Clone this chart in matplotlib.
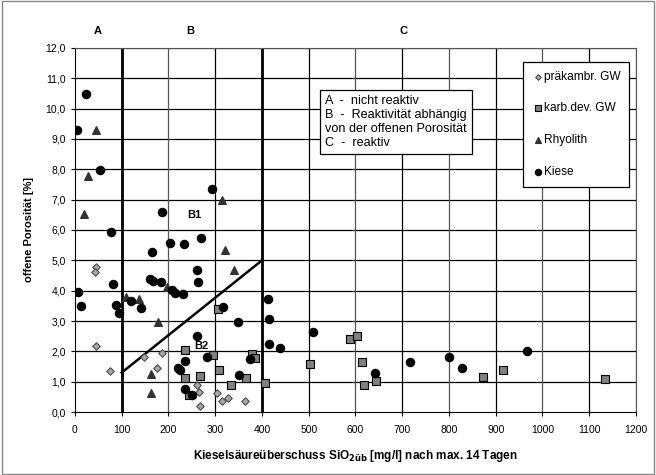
import matplotlib.pyplot as plt

plt.rcParams['font.family'] = ['Liberation Sans', 'DejaVu Sans']

# präkambr. GW (diamonds)
pk_x = [46, 42, 46, 75, 148, 186, 176, 260, 266, 267, 303, 315, 327, 363]
pk_y = [4.79, 4.61, 2.19, 1.36, 1.81, 1.95, 1.46, 0.89, 0.65, 0.20, 0.64, 0.37, 0.45, 0.37]

# karb.dev. GW (squares)
kd_x = [305, 236, 295, 379, 384, 307, 268, 236, 366, 334, 406, 243, 502, 589, 604,
        613, 644, 618, 872, 916, 1134]
kd_y = [3.40, 2.03, 1.88, 1.91, 1.77, 1.40, 1.19, 1.11, 1.13, 0.90, 0.96, 0.56, 1.59, 2.40, 2.52,
        1.65, 1.02, 0.88, 1.15, 1.38, 1.08]

# Rhyolith (triangles)
rh_x = [46, 27, 20, 315, 320, 340, 110, 137, 197, 177, 162, 162]
rh_y = [9.30, 7.78, 6.52, 6.99, 5.34, 4.68, 3.80, 3.71, 4.11, 2.98, 1.25, 0.62]

# Kiese (circles)
ki_x = [24, 4, 53, 77, 187, 6, 13, 82, 88, 94, 119, 141, 164, 160, 167, 185, 203,
        208, 215, 230, 293, 269, 233, 260, 263, 412, 316, 416, 348, 260, 414, 438,
        282, 374, 235, 220, 225, 351, 235, 251, 509, 641, 717, 800, 827, 967]
ki_y = [10.47, 9.31, 7.98, 5.92, 6.58, 3.97, 3.50, 4.21, 3.53, 3.25, 3.66, 3.43, 5.29, 4.39,
        4.31, 4.30, 5.56, 4.02, 3.93, 3.88, 7.35, 5.75, 5.53, 4.67, 4.30, 3.72, 3.47, 3.08,
        2.96, 2.50, 2.25, 2.12, 1.80, 1.74, 1.69, 1.46, 1.37, 1.22, 0.75, 0.56, 2.65, 1.28,
        1.66, 1.82, 1.44, 2.01]

x_ticks = list(range(0, 1201, 100))
y_ticks = list(range(0, 13))
y_labels = ['%.1f' % v for v in y_ticks]
y_labels = [s.replace('.', ',') for s in y_labels]

fig = plt.figure(figsize=(6.56, 4.75), dpi=100)
ax = fig.add_axes([0.1143, 0.1326, 0.8552, 0.7664])

ax.set_xlim(0, 1200)
ax.set_ylim(0, 12)
ax.set_xticks(x_ticks)
ax.set_yticks(y_ticks)
ax.set_yticklabels(y_labels)
ax.tick_params(labelsize=7.5, length=3, direction='out', colors='black')
ax.tick_params(axis='x', pad=6)

for v in y_ticks[1:]:
    ax.axhline(v, color='black', lw=0.9, zorder=1)
for v in x_ticks[1:]:
    c = '#555555' if v % 200 == 0 else 'black'
    ax.axvline(v, color=c, lw=0.9, zorder=1)
ax.axvline(100, color='black', lw=2, zorder=2)
ax.axvline(400, color='black', lw=2, zorder=2)
ax.plot([100, 400], [1.3, 5.0], color='black', lw=1.8, zorder=2)

for s in ax.spines.values():
    s.set_color('#555555')
ax.spines['left'].set_color('black')
ax.spines['bottom'].set_color('black')

ax.scatter(pk_x, pk_y, marker='D', s=15, color='#a6a6a6', edgecolor='#404040', lw=0.7,
           zorder=3, label='präkambr. GW')
ax.scatter(kd_x, kd_y, marker='s', s=26, color='#808080', edgecolor='black', lw=0.8,
           zorder=3, label='karb.dev. GW')
ax.scatter(rh_x, rh_y, marker='^', s=30, color='#333333', edgecolor='#333333',
           zorder=3, label='Rhyolith')
ax.scatter(ki_x, ki_y, marker='o', s=34, color='black', zorder=4, label='Kiese')

leg = ax.legend(loc='upper right', bbox_to_anchor=(0.988, 0.962), borderaxespad=0,
                fontsize=8.6, frameon=True, fancybox=False, edgecolor='black', framealpha=1,
                handletextpad=0.05, handlelength=0.9, labelspacing=1.65,
                borderpad=0.75, markerscale=0.75)
leg.get_frame().set_linewidth(0.9)

ax.text(535, 10.45, 'A  -  nicht reaktiv\nB  -  Reaktivität abhängig\n'
        'von der offenen Porosität\nC  -  reaktiv',
        fontsize=9.1, va='top', ha='left', linespacing=1.22, zorder=5,
        bbox=dict(boxstyle='square,pad=0.4', facecolor='white', edgecolor='black', lw=0.9))

ax.text(49, 12.55, 'A', fontsize=8, fontweight='bold', ha='center', va='center')
ax.text(246, 12.55, 'B', fontsize=8, fontweight='bold', ha='center', va='center')
ax.text(702, 12.55, 'C', fontsize=8, fontweight='bold', ha='center', va='center')
ax.text(256, 6.5, 'B1', fontsize=8, fontweight='bold', ha='center', va='center', zorder=5)
ax.text(271, 2.18, 'B2', fontsize=8, fontweight='bold', ha='center', va='center', zorder=5)

ax.set_ylabel('offene Porosität [%]', fontsize=8, fontweight='bold', labelpad=8)
ax.set_xlabel(r'Kieselsäureüberschuss SiO$_{\mathbf{2üb}}$ [mg/l] nach max. 14 Tagen',
              fontsize=8.5, fontweight='bold', labelpad=10)

fig.patches.append(plt.Rectangle((0.003, 0.003), 0.994, 0.994, transform=fig.transFigure,
                                 fill=False, edgecolor='#888888', lw=1))

fig.savefig('out.png', dpi=100)
